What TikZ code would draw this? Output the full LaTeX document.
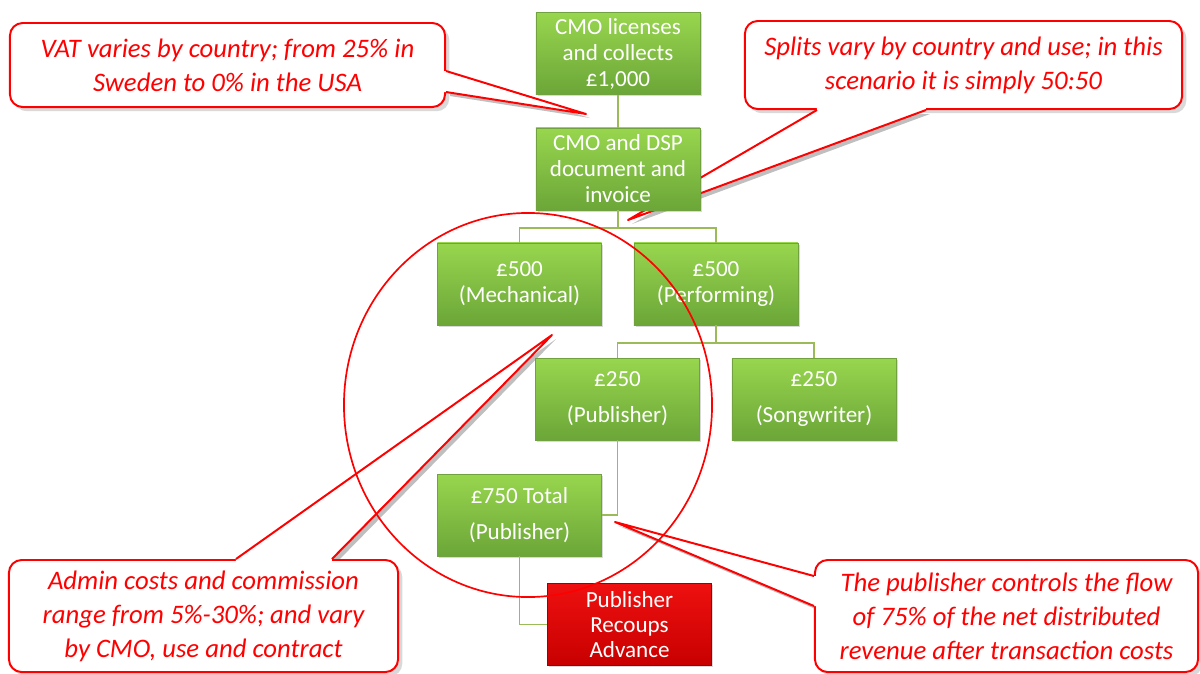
\documentclass[tikz,border=0pt]{standalone}
\usepackage{fontspec}
\setmainfont{Carlito}
\usetikzlibrary{calc,shadows,backgrounds}
\definecolor{boxtop}{HTML}{98D64E}
\definecolor{boxbottom}{HTML}{6BA638}
\definecolor{boxedge}{HTML}{72A23F}
\definecolor{linkgreen}{HTML}{9BBB59}
\definecolor{advtop}{HTML}{EE1010}
\definecolor{advbottom}{HTML}{C80000}
\definecolor{notered}{HTML}{FF0000}
\tikzset{moneybox/.style={draw=boxedge, line width=0.5pt, top color=boxtop,
  bottom color=boxbottom, text=white, align=center, inner sep=2pt,
  minimum width=4.1cm, minimum height=2.05cm, font=\fontsize{16.4}{18.5}\selectfont,
  drop shadow={shadow xshift=1.2pt, shadow yshift=-1.2pt, opacity=0.3}},
  widebox/.style={font=\fontsize{16.4}{25.6}\selectfont},
  advbox/.style={moneybox, draw=advbottom!80!black, top color=advtop,
  bottom color=advbottom, font=\fontsize{16.4}{17.8}\selectfont},
  link/.style={draw=linkgreen, line width=1.3pt},
  note/.style={draw=notered, line width=1.4pt, fill=white, rounded corners=9pt,
  text=notered, align=center, inner sep=2pt, font=\fontsize{19}{24.2}\selectfont\itshape,
  drop shadow={shadow xshift=3pt, shadow yshift=-3pt, opacity=0.3}},
  pointer/.style={draw=notered, line width=1.4pt, line join=round},
  pointershade/.style={fill=black, opacity=0.25},
  ring/.style={draw=notered, line width=1.2pt}}
% base a, base b, tip, inward shift
\newcommand{\notepointer}[4]{%
  \begin{scope}[on background layer]
    \fill[pointershade] ([shift={(4,4)}]#1) -- ([shift={(4,4)}]#3) -- ([shift={(4,4)}]#2) -- cycle;
  \end{scope}
  \fill[white] ([shift={#4}]#1) -- (#1) -- (#3) -- (#2) -- ([shift={#4}]#2) -- cycle;
  \draw[pointer] (#1) -- (#3) -- (#2);}

\begin{document}
\begin{tikzpicture}[x=0.025cm, y=-0.025cm]
  \useasboundingbox (0,0) rectangle (1200,673);

  % callouts
  \node[note, minimum width=10.875cm, minimum height=2.1cm] (vat) at (227.5,65)
    {VAT varies by country; from 25\% in\\Sweden to 0\% in the USA};
  \node[note, minimum width=10.925cm, minimum height=2.2cm] (splits) at (963.5,65)
    {Splits vary by country and use; in this\\scenario it is simply 50:50};
  \node[note, minimum width=9.725cm, minimum height=2.8cm] (admin) at (203.5,616)
    {Admin costs and commission\\range from 5\%-30\%; and vary\\by CMO, use and contract};
  \node[note, minimum width=9.575cm, minimum height=2.8cm] (share) at (1006.5,616)
    {The publisher controls the flow\\of 75\% of the net distributed\\revenue after transaction costs};

  \coordinate (vattip) at (586,114);
  \coordinate (splitstip) at (628,220);
  \coordinate (admintip) at (552,335);
  \coordinate (sharetip) at (615,522);
  \coordinate (vat-a) at ([shift={(0,49)}]vat.north east);
  \coordinate (vat-b) at ([shift={(0,70)}]vat.north east);
  \coordinate (splits-a) at ([shift={(73,0)}]splits.south west);
  \coordinate (splits-b) at ([shift={(182,0)}]splits.south west);
  \coordinate (admin-a) at ([shift={(228,0)}]admin.north west);
  \coordinate (admin-b) at ([shift={(324,0)}]admin.north west);
  \coordinate (share-a) at ([shift={(0,17)}]share.north west);
  \coordinate (share-b) at ([shift={(0,47)}]share.north west);

  \notepointer{vat-a}{vat-b}{vattip}{(-3,0)}
  \notepointer{splits-a}{splits-b}{splitstip}{(0,-3)}
  \notepointer{admin-a}{admin-b}{admintip}{(0,3)}
  \notepointer{share-a}{share-b}{sharetip}{(3,0)}

  % money flow
  \node[moneybox] (cmo) at (618,53.5) {CMO licenses\\and collects\\£1,000};
  \node[moneybox] (inv) at (618,169) {CMO and DSP\\document and\\invoice};
  \node[moneybox] (mech) at (519.5,284) {£500\\(Mechanical)};
  \node[moneybox] (perf) at (716,284) {£500\\(Performing)};
  \node[moneybox, widebox] (pub) at (617.5,399) {£250\\(Publisher)};
  \node[moneybox, widebox] (song) at (814,399) {£250\\(Songwriter)};
  \node[moneybox, widebox] (total) at (519.5,515) {£750 Total\\(Publisher)};
  \node[advbox] (adv) at (629.5,624.5) {Publisher\\Recoups\\Advance};

  \draw[link] (cmo) -- (inv);
  \draw[link] (inv.south) -- ++(0,18) -| (mech.north);
  \draw[link] (inv.south) -- ++(0,18) -| (perf.north);
  \draw[link] (perf.south) -- ++(0,18) -| (pub.north);
  \draw[link] (perf.south) -- ++(0,18) -| (song.north);
  \draw[link] (pub.south) |- (total.east);
  \draw[link] (total.south) |- (adv.west);

  % circle round the publisher share
  \draw[ring] (528,405) ellipse [x radius=4.6cm, y radius=4.8cm];
\end{tikzpicture}
\end{document}
